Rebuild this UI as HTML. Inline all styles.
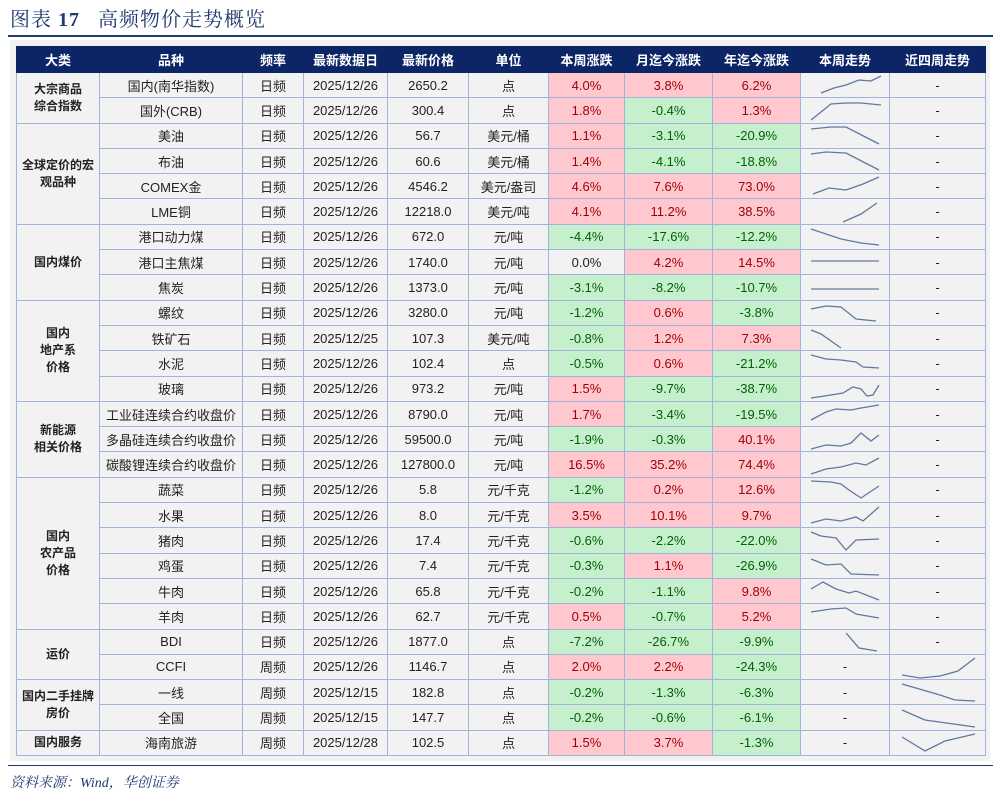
<!DOCTYPE html>
<html><head><meta charset="utf-8"><style>
body{margin:0;width:1004px;height:803px;background:#fff;position:relative;overflow:hidden;font-family:"Liberation Sans","Noto Sans CJK SC",sans-serif;}
.title{position:absolute;left:10px;top:3px;font-family:"Liberation Serif","Noto Serif CJK SC",serif;font-size:20px;color:#1f3a6e;letter-spacing:1px;}
.rule{position:absolute;left:8px;width:985px;height:2px;background:#1f3a6e;}
.panel{position:absolute;left:10px;top:40px;width:980px;height:721px;background:#f2f2f2;}
table{position:absolute;left:16px;top:46px;border-collapse:collapse;table-layout:fixed;font-size:13px;color:#222;}
td,th{border:1px solid #9fb3dd;text-align:center;padding:0;overflow:hidden;white-space:nowrap;}
th{background:#0b2566;color:#fff;height:25px;font-size:13px;font-weight:bold;border-color:#0b2566;}
tr.r td{height:24.3px;background:#f2f2f2;}
td.c{font-weight:bold;white-space:normal;line-height:17px;font-size:12px;}
td.p{background:#ffc7ce!important;color:#9c0006;}
td.g{background:#c6efce!important;color:#006100;}
svg{display:block;}
polyline{fill:none;stroke:#6278a0;stroke-width:1.3;}
.foot{position:absolute;left:10px;top:772px;font-family:"Liberation Serif","Noto Serif CJK SC",serif;font-style:italic;font-size:14px;color:#1f3a6e;}
</style></head><body>
<div class="title">图表 <b>17</b>&nbsp;&nbsp;&nbsp;高频物价走势概览</div>
<div class="rule" style="top:35px"></div>
<div class="panel"></div>
<table>
<colgroup><col style="width:83px"><col style="width:143px"><col style="width:61px"><col style="width:84px"><col style="width:81px"><col style="width:80px"><col style="width:76px"><col style="width:88px"><col style="width:88px"><col style="width:88px"><col style="width:95px"></colgroup>
<tr><th>大类</th><th>品种</th><th>频率</th><th>最新数据日</th><th>最新价格</th><th>单位</th><th>本周涨跌</th><th>月迄今涨跌</th><th>年迄今涨跌</th><th>本周走势</th><th>近四周走势</th></tr>
<tr class="r"><td class="c" rowspan="2">大宗商品<br>综合指数</td><td>国内(南华指数)</td><td>日频</td><td>2025/12/26</td><td>2650.2</td><td>点</td><td class="p">4.0%</td><td class="p">3.8%</td><td class="p">6.2%</td><td><svg width="88" height="24"><polyline points="20,20 33,15 45,12 58,7 70,8 80,3"/></svg></td><td>-</td></tr>
<tr class="r"><td>国外(CRB)</td><td>日频</td><td>2025/12/26</td><td>300.4</td><td>点</td><td class="p">1.8%</td><td class="g">-0.4%</td><td class="p">1.3%</td><td><svg width="88" height="24"><polyline points="10,22 30,6 45,5 60,5 80,7"/></svg></td><td>-</td></tr>
<tr class="r"><td class="c" rowspan="4">全球定价的宏<br>观品种</td><td>美油</td><td>日频</td><td>2025/12/26</td><td>56.7</td><td>美元/桶</td><td class="p">1.1%</td><td class="g">-3.1%</td><td class="g">-20.9%</td><td><svg width="88" height="24"><polyline points="10,5 30,3 45,3 78,20"/></svg></td><td>-</td></tr>
<tr class="r"><td>布油</td><td>日频</td><td>2025/12/26</td><td>60.6</td><td>美元/桶</td><td class="p">1.4%</td><td class="g">-4.1%</td><td class="g">-18.8%</td><td><svg width="88" height="24"><polyline points="10,5 25,3 45,4 78,21"/></svg></td><td>-</td></tr>
<tr class="r"><td>COMEX金</td><td>日频</td><td>2025/12/26</td><td>4546.2</td><td>美元/盎司</td><td class="p">4.6%</td><td class="p">7.6%</td><td class="p">73.0%</td><td><svg width="88" height="24"><polyline points="12,20 28,14 45,16 62,10 78,3"/></svg></td><td>-</td></tr>
<tr class="r"><td>LME铜</td><td>日频</td><td>2025/12/26</td><td>12218.0</td><td>美元/吨</td><td class="p">4.1%</td><td class="p">11.2%</td><td class="p">38.5%</td><td><svg width="88" height="24"><polyline points="42,22 60,14 76,3"/></svg></td><td>-</td></tr>
<tr class="r"><td class="c" rowspan="3">国内煤价</td><td>港口动力煤</td><td>日频</td><td>2025/12/26</td><td>672.0</td><td>元/吨</td><td class="g">-4.4%</td><td class="g">-17.6%</td><td class="g">-12.2%</td><td><svg width="88" height="24"><polyline points="10,4 40,14 60,18 78,20"/></svg></td><td>-</td></tr>
<tr class="r"><td>港口主焦煤</td><td>日频</td><td>2025/12/26</td><td>1740.0</td><td>元/吨</td><td>0.0%</td><td class="p">4.2%</td><td class="p">14.5%</td><td><svg width="88" height="24"><polyline points="10,11 78,11"/></svg></td><td>-</td></tr>
<tr class="r"><td>焦炭</td><td>日频</td><td>2025/12/26</td><td>1373.0</td><td>元/吨</td><td class="g">-3.1%</td><td class="g">-8.2%</td><td class="g">-10.7%</td><td><svg width="88" height="24"><polyline points="10,13 78,13"/></svg></td><td>-</td></tr>
<tr class="r"><td class="c" rowspan="4">国内<br>地产系<br>价格</td><td>螺纹</td><td>日频</td><td>2025/12/26</td><td>3280.0</td><td>元/吨</td><td class="g">-1.2%</td><td class="p">0.6%</td><td class="g">-3.8%</td><td><svg width="88" height="24"><polyline points="10,8 25,5 40,6 55,18 75,20"/></svg></td><td>-</td></tr>
<tr class="r"><td>铁矿石</td><td>日频</td><td>2025/12/25</td><td>107.3</td><td>美元/吨</td><td class="g">-0.8%</td><td class="p">1.2%</td><td class="p">7.3%</td><td><svg width="88" height="24"><polyline points="10,4 20,8 40,22"/></svg></td><td>-</td></tr>
<tr class="r"><td>水泥</td><td>日频</td><td>2025/12/26</td><td>102.4</td><td>点</td><td class="g">-0.5%</td><td class="p">0.6%</td><td class="g">-21.2%</td><td><svg width="88" height="24"><polyline points="10,4 25,8 40,9 55,11 62,16 78,17"/></svg></td><td>-</td></tr>
<tr class="r"><td>玻璃</td><td>日频</td><td>2025/12/26</td><td>973.2</td><td>元/吨</td><td class="p">1.5%</td><td class="g">-9.7%</td><td class="g">-38.7%</td><td><svg width="88" height="24"><polyline points="10,21 30,18 42,16 52,10 60,12 66,19 72,18 78,8"/></svg></td><td>-</td></tr>
<tr class="r"><td class="c" rowspan="3">新能源<br>相关价格</td><td>工业硅连续合约收盘价</td><td>日频</td><td>2025/12/26</td><td>8790.0</td><td>元/吨</td><td class="p">1.7%</td><td class="g">-3.4%</td><td class="g">-19.5%</td><td><svg width="88" height="24"><polyline points="10,18 25,10 35,7 50,8 60,6 78,3"/></svg></td><td>-</td></tr>
<tr class="r"><td>多晶硅连续合约收盘价</td><td>日频</td><td>2025/12/26</td><td>59500.0</td><td>元/吨</td><td class="g">-1.9%</td><td class="g">-0.3%</td><td class="p">40.1%</td><td><svg width="88" height="24"><polyline points="10,22 25,18 40,19 50,16 60,6 70,14 78,8"/></svg></td><td>-</td></tr>
<tr class="r"><td>碳酸锂连续合约收盘价</td><td>日频</td><td>2025/12/26</td><td>127800.0</td><td>元/吨</td><td class="p">16.5%</td><td class="p">35.2%</td><td class="p">74.4%</td><td><svg width="88" height="24"><polyline points="10,21 25,16 40,14 55,10 65,12 78,5"/></svg></td><td>-</td></tr>
<tr class="r"><td class="c" rowspan="6">国内<br>农产品<br>价格</td><td>蔬菜</td><td>日频</td><td>2025/12/26</td><td>5.8</td><td>元/千克</td><td class="g">-1.2%</td><td class="p">0.2%</td><td class="p">12.6%</td><td><svg width="88" height="24"><polyline points="10,3 30,4 40,6 48,12 60,20 78,8"/></svg></td><td>-</td></tr>
<tr class="r"><td>水果</td><td>日频</td><td>2025/12/26</td><td>8.0</td><td>元/千克</td><td class="p">3.5%</td><td class="p">10.1%</td><td class="p">9.7%</td><td><svg width="88" height="24"><polyline points="10,20 25,16 40,18 55,14 62,18 78,4"/></svg></td><td>-</td></tr>
<tr class="r"><td>猪肉</td><td>日频</td><td>2025/12/26</td><td>17.4</td><td>元/千克</td><td class="g">-0.6%</td><td class="g">-2.2%</td><td class="g">-22.0%</td><td><svg width="88" height="24"><polyline points="10,4 20,8 35,10 45,22 55,12 78,11"/></svg></td><td>-</td></tr>
<tr class="r"><td>鸡蛋</td><td>日频</td><td>2025/12/26</td><td>7.4</td><td>元/千克</td><td class="g">-0.3%</td><td class="p">1.1%</td><td class="g">-26.9%</td><td><svg width="88" height="24"><polyline points="10,5 25,11 40,10 50,20 78,21"/></svg></td><td>-</td></tr>
<tr class="r"><td>牛肉</td><td>日频</td><td>2025/12/26</td><td>65.8</td><td>元/千克</td><td class="g">-0.2%</td><td class="g">-1.1%</td><td class="p">9.8%</td><td><svg width="88" height="24"><polyline points="10,10 22,3 35,10 48,14 55,12 78,21"/></svg></td><td>-</td></tr>
<tr class="r"><td>羊肉</td><td>日频</td><td>2025/12/26</td><td>62.7</td><td>元/千克</td><td class="p">0.5%</td><td class="g">-0.7%</td><td class="p">5.2%</td><td><svg width="88" height="24"><polyline points="10,8 30,5 45,4 55,10 78,14"/></svg></td><td>-</td></tr>
<tr class="r"><td class="c" rowspan="2">运价</td><td>BDI</td><td>日频</td><td>2025/12/26</td><td>1877.0</td><td>点</td><td class="g">-7.2%</td><td class="g">-26.7%</td><td class="g">-9.9%</td><td><svg width="88" height="24"><polyline points="45,3 58,18 76,21"/></svg></td><td>-</td></tr>
<tr class="r"><td>CCFI</td><td>周频</td><td>2025/12/26</td><td>1146.7</td><td>点</td><td class="p">2.0%</td><td class="p">2.2%</td><td class="g">-24.3%</td><td>-</td><td><svg width="95" height="24"><polyline points="12,20 30,23 50,21 68,16 85,3"/></svg></td></tr>
<tr class="r"><td class="c" rowspan="2">国内二手挂牌<br>房价</td><td>一线</td><td>周频</td><td>2025/12/15</td><td>182.8</td><td>点</td><td class="g">-0.2%</td><td class="g">-1.3%</td><td class="g">-6.3%</td><td>-</td><td><svg width="95" height="24"><polyline points="12,4 50,15 65,20 85,21"/></svg></td></tr>
<tr class="r"><td>全国</td><td>周频</td><td>2025/12/15</td><td>147.7</td><td>点</td><td class="g">-0.2%</td><td class="g">-0.6%</td><td class="g">-6.1%</td><td>-</td><td><svg width="95" height="24"><polyline points="12,4 35,14 85,21"/></svg></td></tr>
<tr class="r"><td class="c">国内服务</td><td>海南旅游</td><td>周频</td><td>2025/12/28</td><td>102.5</td><td>点</td><td class="p">1.5%</td><td class="p">3.7%</td><td class="g">-1.3%</td><td>-</td><td><svg width="95" height="24"><polyline points="12,6 35,20 55,10 85,3"/></svg></td></tr>
</table>
<div class="rule" style="top:765px;height:1px"></div>
<div class="foot">资料来源：Wind，华创证券</div>
</body></html>
